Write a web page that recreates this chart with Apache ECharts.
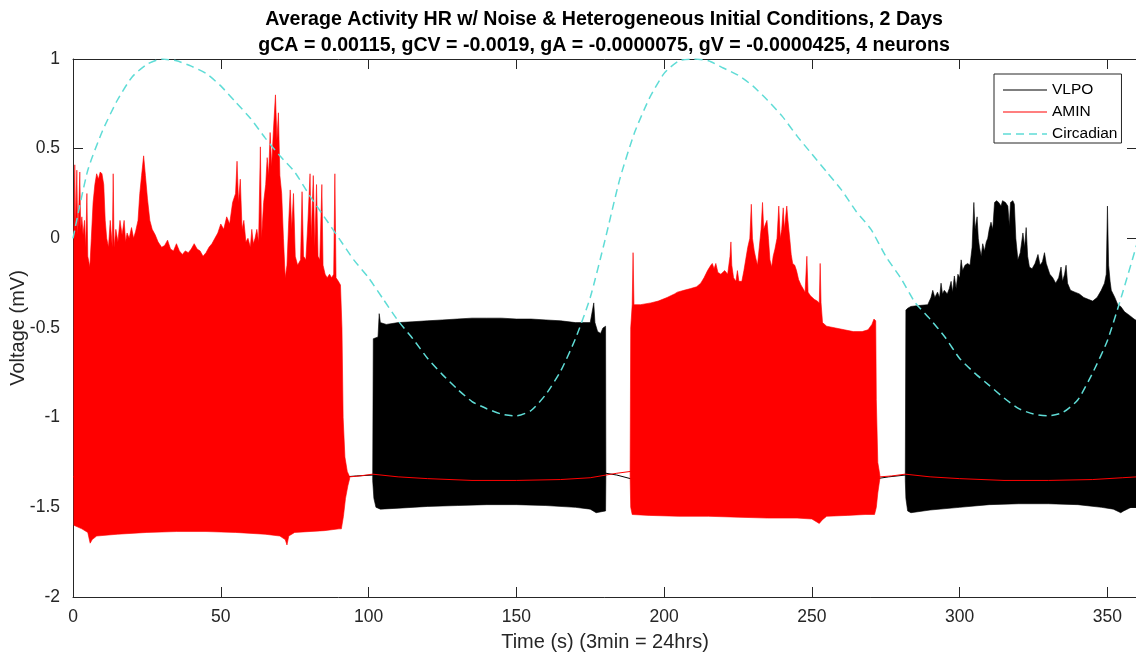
<!DOCTYPE html>
<html><head><meta charset="utf-8">
<script src="https://cdn.jsdelivr.net/npm/echarts@6/dist/echarts.min.js"></script>
<style>html,body{margin:0;padding:0;background:#fff}#chart{width:1136px;height:656px}</style>
</head><body><div id="chart"></div>
<script>
const titleText = 'Average Activity HR w/ Noise & Heterogeneous Initial Conditions, 2 Days\ngCA = 0.00115, gCV = -0.0019, gA = -0.0000075, gV = -0.0000425, 4 neurons';
const xName = 'Time (s) (3min = 24hrs)';
const yName = 'Voltage (mV)';
const xTicks = [0, 50, 100, 150, 200, 250, 300, 350];
const yTicks = [-2, -1.5, -1, -0.5, 0, 0.5, 1];

const circadianT = [0,5,10,15,20,25,30,35,40,45,50,55,60,65,70,75,80,85,90,95,100,105,110,115,120,125,130,135,140,145,150,155,160,165,170,175,180,185,190,195,200,205,210,215,220,225,230,235,240,245,250,255,260,265,270,275,280,285,290,295,300,305,310,315,320,325,330,335,340,345,350,355,360];
const circadianV = [0.0,0.38,0.60,0.77,0.90,0.97,1.00,0.99,0.96,0.92,0.85,0.76,0.67,0.56,0.46,0.37,0.24,0.12,0.00,-0.12,-0.22,-0.34,-0.46,-0.56,-0.67,-0.76,-0.84,-0.91,-0.95,-0.98,-0.99,-0.96,-0.87,-0.74,-0.56,-0.33,
  -0.01,0.33,0.59,0.78,0.92,0.99,1.00,0.99,0.95,0.91,0.85,0.77,0.68,0.57,0.47,0.37,0.27,0.15,0.05,-0.10,-0.22,-0.36,-0.45,-0.55,-0.67,-0.75,-0.82,-0.89,-0.95,-0.98,-0.99,-0.97,-0.90,-0.75,-0.57,-0.31,-0.03];

const vlpoLine = [[0,-1.33],[92,-1.33],[96,-1.325],[101.4,-1.32],[140,-1.33],[180.3,-1.31],[184,-1.32],[188.6,-1.34],[230,-1.34],[272,-1.34],[276,-1.33],[281.6,-1.32],[360,-1.33]];
const aminLine = [[0,-1.33],[91,-1.33],[93.6,-1.33],[97,-1.325],[101.4,-1.315],[110,-1.33],[120,-1.34],[135,-1.35],[150,-1.35],[165,-1.345],[175,-1.335],[180.3,-1.32],[184,-1.31],[188.6,-1.30],[230,-1.33],[271.8,-1.33],[273,-1.33],[277,-1.325],[281.6,-1.315],[290,-1.33],[300,-1.34],[315,-1.35],[330,-1.35],[345,-1.345],[355,-1.335],[360,-1.33]];

const aminBand1Upper = [[0.3,0.05],[0.6,0.41],[0.9,0.05],[1.3,0.38],[1.6,0.02],[2.0,0.2],[2.3,0.37],[2.6,0.05],[3.0,0.12],[3.4,0.02],[3.9,0.1],[4.3,-0.05],[4.7,0.25],[5.0,-0.1],[5.7,-0.16],[6.2,0.0],[6.8,0.2],[7.4,0.3],[8.0,0.36],[8.6,0.33],[9.2,0.37],[9.8,0.36],[10.4,0.3],[10.9,0.1],[11.4,0.0],[12.0,-0.05],[12.6,0.1],[13.3,-0.05],[13.6,0.36],[13.9,-0.05],[14.5,0.05],[15.2,-0.02],[15.9,0.1],[16.6,0.02],[17.3,0.1],[17.8,-0.02],[18.3,0.03],[19.0,0.0],[19.8,0.06],[20.5,0.0],[21.2,0.04],[22.0,0.1],[22.6,0.25],[23.2,0.35],[23.9,0.46],[24.5,0.35],[25.2,0.22],[26.0,0.1],[26.8,0.05],[27.8,0.02],[28.8,-0.02],[30,-0.05],[31,-0.04],[32,-0.01],[33,-0.06],[34,-0.07],[35,-0.03],[36,-0.07],[37,-0.09],[38,-0.07],[39,-0.08],[40,-0.06],[41,-0.03],[42,-0.06],[43,-0.07],[44,-0.1],[45,-0.08],[46,-0.05],[47,-0.03],[48,0.0],[49,0.03],[50,0.08],[51,0.05],[52,0.12],[53,0.08],[54,0.2],[55,0.25],[55.5,0.43],[56,0.2],[56.6,0.33],[57.2,0.05],[57.8,0.1],[58.5,-0.02],[59.2,0.0],[60,-0.05],[60.5,0.05],[61,-0.03],[61.6,0.0],[62.2,0.05],[62.8,-0.02],[63.4,0.51],[63.8,0.0],[64.5,0.2],[65.2,0.3],[65.7,0.45],[66.2,0.35],[66.7,0.59],[67.2,0.4],[67.8,0.6],[68.5,0.8],[69.0,0.55],[69.5,0.7],[70.0,0.35],[70.6,0.25],[71.2,0.0],[71.8,-0.22],[72.4,-0.15],[73.0,0.1],[73.5,0.27],[74.0,0.05],[74.6,0.25],[75.2,-0.1],[76,-0.15],[77,-0.12],[77.5,0.26],[78,-0.1],[78.8,-0.12],[79.5,0.1],[80.2,0.36],[80.6,0.0],[81.3,0.35],[81.8,-0.05],[82.4,0.3],[82.9,-0.1],[83.5,-0.12],[84.2,0.3],[84.6,-0.15],[85.3,-0.2],[86,-0.22],[86.8,-0.2],[87.5,-0.22],[88.2,-0.2],[88.6,0.36],[89.0,-0.22],[89.8,-0.24],[90.5,-0.26],[91.0,-0.5],[91.4,-1.0],[92.0,-1.22],[92.8,-1.3],[93.6,-1.33]];
const aminBand1Lower = [[0.3,-1.60],[3,-1.62],[5,-1.64],[5.8,-1.70],[6.5,-1.68],[8,-1.66],[15,-1.65],[25,-1.64],[35,-1.635],[45,-1.635],[55,-1.64],[65,-1.65],[70,-1.66],[71.8,-1.68],[72.4,-1.71],[73,-1.66],[75,-1.64],[85,-1.63],[90,-1.62],[90.8,-1.62],[91.5,-1.55],[92.2,-1.45],[93,-1.38],[93.6,-1.34]];

const aminBand2Upper = [[188.5,-1.3],[188.7,-0.5],[189.2,-0.37],[189.5,-0.08],[189.8,-0.37],[192,-0.37],[195.5,-0.36],[198,-0.35],[201,-0.33],[203.5,-0.31],[204.5,-0.30],[206.7,-0.29],[209,-0.28],[211,-0.27],[212.4,-0.25],[213.5,-0.22],[214.7,-0.18],[215.8,-0.15],[216.3,-0.14],[216.9,-0.17],[217.5,-0.14],[218.2,-0.19],[219.2,-0.2],[220.5,-0.18],[221.5,-0.2],[222.3,-0.1],[222.6,-0.02],[222.9,-0.15],[223.5,-0.22],[224.3,-0.24],[224.8,-0.18],[225.3,-0.24],[226.3,-0.24],[227.0,-0.18],[227.6,-0.12],[228.3,-0.05],[229.0,0.0],[229.5,0.19],[229.9,0.0],[230.5,-0.07],[231.0,-0.11],[231.6,-0.15],[232.2,-0.05],[232.8,0.05],[233.3,0.2],[233.7,0.05],[234.3,0.08],[234.8,0.1],[235.3,0.0],[235.8,-0.12],[236.4,-0.16],[236.9,-0.1],[237.5,-0.06],[238.2,0.0],[238.8,0.18],[239.3,0.0],[239.8,0.05],[240.3,0.17],[240.7,0.05],[241.5,0.18],[241.9,0.1],[242.5,0.0],[243.0,-0.09],[243.5,-0.14],[244.2,-0.15],[244.8,-0.18],[245.5,-0.23],[246.3,-0.26],[247.0,-0.28],[247.7,-0.3],[248.3,-0.10],[248.7,-0.3],[249.5,-0.32],[250.8,-0.34],[251.8,-0.35],[252.5,-0.36],[252.8,-0.14],[253.1,-0.36],[253.6,-0.47],[255,-0.49],[258,-0.5],[261,-0.51],[264,-0.52],[267,-0.52],[269,-0.51],[270.3,-0.48],[271.0,-0.45],[271.6,-0.46],[271.8,-0.9],[272.3,-1.25],[273.0,-1.32]];
const aminBand2Lower = [[188.5,-1.33],[188.7,-1.5],[189.2,-1.54],[195,-1.545],[205,-1.55],[215,-1.55],[225,-1.555],[235,-1.56],[245,-1.56],[250,-1.565],[251.5,-1.58],[252.5,-1.59],[253.5,-1.57],[255,-1.55],[262,-1.545],[268,-1.54],[271.2,-1.54],[271.8,-1.5],[272.3,-1.42],[273,-1.34]];

const vlpoBand1Upper = [[101.4,-1.33],[101.6,-0.56],[103.2,-0.55],[103.6,-0.42],[104.0,-0.47],[106,-0.48],[110,-0.47],[115,-0.465],[120,-0.46],[125,-0.455],[130,-0.45],[135,-0.445],[140,-0.445],[145,-0.445],[150,-0.45],[155,-0.45],[160,-0.455],[165,-0.46],[170,-0.47],[175,-0.47],[176.2,-0.36],[176.6,-0.47],[177.5,-0.52],[178.5,-0.53],[179.3,-0.5],[180.2,-0.49],[180.3,-1.3]];
const vlpoBand1Lower = [[101.4,-1.35],[101.8,-1.45],[102.5,-1.5],[104,-1.51],[110,-1.505],[120,-1.495],[130,-1.49],[140,-1.485],[150,-1.485],[160,-1.49],[170,-1.5],[175,-1.51],[177,-1.53],[180.2,-1.52],[180.3,-1.32]];

const vlpoBand2Upper = [[281.6,-1.32],[281.8,-0.40],[282.4,-0.39],[283.5,-0.38],[286,-0.375],[289.2,-0.37],[290.3,-0.33],[290.9,-0.29],[291.6,-0.33],[292.5,-0.30],[293.2,-0.33],[293.7,-0.25],[294.2,-0.31],[294.8,-0.29],[295.8,-0.31],[296.5,-0.28],[297.1,-0.24],[297.6,-0.3],[298.2,-0.21],[298.8,-0.28],[299.4,-0.2],[300.0,-0.22],[300.5,-0.12],[301.0,-0.18],[301.8,-0.15],[302.7,-0.14],[303.5,-0.15],[304.2,-0.05],[304.8,0.2],[305.2,0.05],[305.9,0.12],[306.3,0.0],[306.7,-0.05],[307.3,-0.1],[307.8,-0.03],[308.4,-0.07],[309.0,-0.02],[309.5,0.0],[310.0,0.05],[310.6,0.09],[311.2,0.05],[311.8,0.2],[312.5,0.21],[313.2,0.2],[314.0,0.18],[314.5,0.21],[315.5,0.2],[316.3,0.18],[316.8,0.07],[317.2,0.2],[318.0,0.21],[318.5,0.19],[319.0,0.0],[319.7,-0.12],[320.5,-0.08],[321.4,0.03],[322.0,-0.05],[322.5,0.06],[323.0,-0.1],[323.6,-0.16],[324.5,-0.17],[325.5,-0.14],[326.5,-0.09],[327.2,-0.15],[328.0,-0.13],[328.7,-0.08],[329.3,-0.14],[330.5,-0.2],[331.5,-0.22],[332.5,-0.25],[333.5,-0.22],[334.3,-0.16],[334.8,-0.24],[335.5,-0.2],[336.0,-0.15],[336.5,-0.25],[337.5,-0.29],[339,-0.3],[340.5,-0.31],[342,-0.33],[343.5,-0.34],[345,-0.35],[346.5,-0.33],[347.9,-0.29],[349.0,-0.25],[349.6,-0.2],[350.0,0.18],[350.4,-0.15],[350.9,-0.24],[351.3,-0.29],[352.5,-0.33],[353.5,-0.37],[354.5,-0.38],[355.8,-0.41],[357.5,-0.43],[359,-0.45],[360,-0.46]];
const vlpoBand2Lower = [[281.6,-1.35],[281.8,-1.45],[282.4,-1.52],[283.5,-1.53],[290,-1.515],[300,-1.5],[310,-1.485],[320,-1.48],[330,-1.48],[340,-1.485],[348,-1.5],[352,-1.51],[354.5,-1.53],[355.5,-1.52],[358,-1.5],[360,-1.5]];

const FONT = '"Liberation Sans", Arial, Helvetica, sans-serif';
const AXIS = '#262626';
const CYAN = '#5fdcd6';

const vlpoBands = [{upper: vlpoBand1Upper, lower: vlpoBand1Lower}, {upper: vlpoBand2Upper, lower: vlpoBand2Lower}];
const aminBands = [{upper: aminBand1Upper, lower: aminBand1Lower}, {upper: aminBand2Upper, lower: aminBand2Lower}];

function bandSeries(name, bands, color, z) {
  return {
    name: name, type: 'custom', z: z, silent: true,
    dimensions: ['t', 'v', 'band'],
    encode: {x: 0, y: 1},
    data: bands.map((b, i) => [b.upper[0][0], b.upper[0][1], i]),
    renderItem: function (params, api) {
      const b = bands[api.value(2)];
      const pts = [];
      b.upper.forEach(p => pts.push(api.coord(p)));
      for (let i = b.lower.length - 1; i >= 0; i--) pts.push(api.coord(b.lower[i]));
      return {type: 'polygon', shape: {points: pts}, style: {fill: color, stroke: color, lineWidth: 0.6}};
    }
  };
}

const solidIcon = 'path://M0,0h44v1.2h-44z';
const dashIcon = 'path://M0,0h8v1.6h-8z M13,0h8v1.6h-8z M26,0h8v1.6h-8z M39,0h5v1.6h-5z';

const axisCommonX = {type: 'value', min: 0, max: 360, interval: 50};
const axisCommonY = {type: 'value', min: -2, max: 1, interval: 0.5};

const chart = echarts.init(document.getElementById('chart'));
chart.setOption({
  animation: false,
  backgroundColor: '#fff',
  title: {
    text: titleText, left: 599, textAlign: 'center', top: 2,
    textStyle: {fontFamily: FONT, fontSize: 19.6, fontWeight: 'bold', color: '#000', lineHeight: 26}
  },
  legend: {
    data: [
      {name: 'VLPO', icon: solidIcon, itemStyle: {color: '#000'}},
      {name: 'AMIN', icon: solidIcon, itemStyle: {color: '#ff0000'}},
      {name: 'Circadian', icon: dashIcon, itemStyle: {color: CYAN}}
    ],
    orient: 'vertical', left: 994, top: 74,
    itemWidth: 44, itemHeight: 12, itemGap: 4,
    padding: [7, 4, 0, 9],
    borderColor: AXIS, borderWidth: 1, borderRadius: 0, backgroundColor: '#fff',
    textStyle: {fontFamily: FONT, fontSize: 15.5, lineHeight: 18, color: '#000'}
  },
  grid: {left: 73, top: 59, width: 1064, height: 538, containLabel: false, outerBoundsMode: 'none'},
  xAxis: [
    Object.assign({}, axisCommonX, {
      position: 'bottom', name: xName, nameLocation: 'middle', nameGap: 35,
      nameTextStyle: {fontFamily: FONT, fontSize: 20, color: AXIS},
      axisLine: {onZero: false, lineStyle: {color: AXIS, width: 1}},
      axisTick: {inside: true, length: 10, lineStyle: {color: AXIS}},
      axisLabel: {fontFamily: FONT, fontSize: 17.5, color: AXIS, margin: 11,
        formatter: v => xTicks.includes(v) ? String(v) : ''},
      splitLine: {show: false}
    }),
    Object.assign({}, axisCommonX, {
      position: 'top',
      axisLine: {onZero: false, lineStyle: {color: AXIS, width: 1}},
      axisTick: {inside: true, length: 10, lineStyle: {color: AXIS}},
      axisLabel: {show: false}, splitLine: {show: false}
    })
  ],
  yAxis: [
    Object.assign({}, axisCommonY, {
      position: 'left', name: yName, nameLocation: 'middle', nameGap: 45, nameRotate: 90,
      nameMoveOverlap: false,
      nameTextStyle: {fontFamily: FONT, fontSize: 20, color: AXIS},
      axisLine: {show: true, onZero: false, lineStyle: {color: AXIS, width: 1}},
      axisTick: {show: true, inside: true, length: 10, lineStyle: {color: AXIS}},
      axisLabel: {fontFamily: FONT, fontSize: 17.5, color: AXIS, margin: 13,
        formatter: v => yTicks.includes(v) ? String(v) : ''},
      splitLine: {show: false}
    }),
    Object.assign({}, axisCommonY, {
      position: 'right',
      axisLine: {show: true, onZero: false, lineStyle: {color: AXIS, width: 1}},
      axisTick: {show: true, inside: true, length: 10, lineStyle: {color: AXIS}},
      axisLabel: {show: false}, splitLine: {show: false}
    })
  ],
  series: [
    {name: 'VLPO', type: 'line', z: 1, data: vlpoLine, symbol: 'none', showSymbol: false,
      lineStyle: {color: '#000', width: 1}, itemStyle: {color: '#000'}},
    {name: 'AMIN', type: 'line', z: 4, data: aminLine, symbol: 'none', showSymbol: false,
      lineStyle: {color: '#ff0000', width: 1}, itemStyle: {color: '#ff0000'}},
    {name: 'Circadian', type: 'line', z: 5, data: circadianT.map((t, i) => [t, circadianV[i]]),
      symbol: 'none', showSymbol: false, smooth: 0.2,
      lineStyle: {color: CYAN, width: 1.5, type: [8, 5]}, itemStyle: {color: CYAN}},
    bandSeries('VLPO', vlpoBands, '#000000', 2),
    bandSeries('AMIN', aminBands, '#ff0000', 3)
  ]
});
</script></body></html>
